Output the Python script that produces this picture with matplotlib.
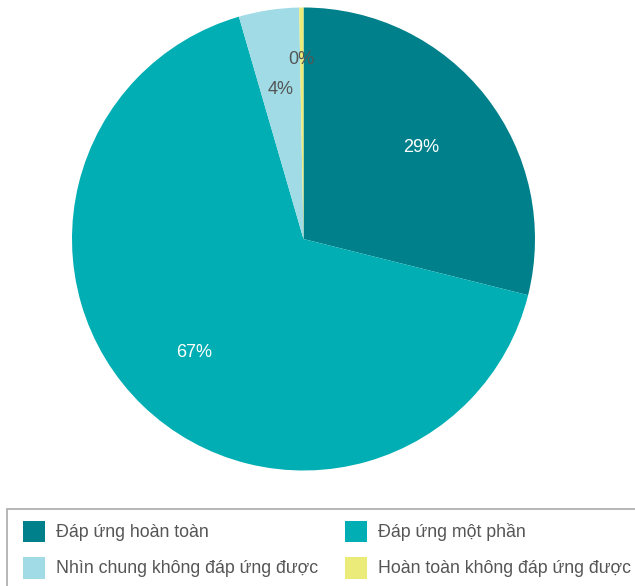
import matplotlib
matplotlib.use("Agg")
import matplotlib.pyplot as plt
from matplotlib.patches import Patch, Rectangle

plt.rcParams["font.family"] = ["Liberation Sans", "DejaVu Sans"]

# Survey response shares (%)
categories = [
    "Đáp ứng hoàn toàn",
    "Đáp ứng một phần",
    "Nhìn chung không đáp ứng được",
    "Hoàn toàn không đáp ứng được",
]
shares = [28.9, 66.6, 4.2, 0.3]
colors = ["#00808A", "#00AEB3", "#A0DBE6", "#EBEB7A"]
label_colors = ["white", "white", "#555555", "#555555"]
label_radius = [0.645, 0.68, 0.655, 0.775]

W, H = 635, 586
fig = plt.figure(figsize=(W / 100, H / 100), dpi=100)

# pie occupies a square region, centre (303.5, 239) px, radius 231.5 px
cx, cy, r = 303.5, 239, 231.5
ax = fig.add_axes([(cx - r) / W, (H - cy - r) / H, 2 * r / W, 2 * r / H])
pct = 0.65
wedges, texts, autotexts = ax.pie(
    shares,
    colors=colors,
    startangle=90,
    counterclock=False,
    autopct="%.0f%%",
    pctdistance=pct,
    wedgeprops=dict(linewidth=0),
    textprops=dict(fontsize=13),
)
for t, c, rad in zip(autotexts, label_colors, label_radius):
    t.set_color(c)
    x, y = t.get_position()
    t.set_position((x * rad / pct, y * rad / pct))

ax.set_xlim(-1, 1)
ax.set_ylim(-1, 1)
ax.set_aspect("equal")
ax.axis("off")

# legend box (extends past the right and bottom edges)
fig.patches.append(Rectangle((7 / W, -0.1), 1.2, (H - 509) / H + 0.1,
                             transform=fig.transFigure, facecolor="none",
                             edgecolor="#AAAAAA", linewidth=1.2))

# legend fills row by row: reorder for matplotlib's column-major layout
order = [0, 2, 1, 3]
handles = [Patch(facecolor=colors[i], edgecolor="none") for i in order]
labels = [categories[i] for i in order]
fs = 12.8
fs_px = fs * 100 / 72
leg = fig.legend(
    handles, labels,
    loc="upper left",
    bbox_to_anchor=(22.7 / W, 1 - 520.5 / H),
    ncol=2,
    frameon=False,
    fontsize=fs,
    borderpad=0,
    borderaxespad=0,
    handlelength=22 / fs_px,
    handleheight=1.525,
    handletextpad=11 / fs_px,
    columnspacing=27 / fs_px,
    labelspacing=0.79,
    labelcolor="#555555",
)

fig.savefig("out.png", dpi=100)
